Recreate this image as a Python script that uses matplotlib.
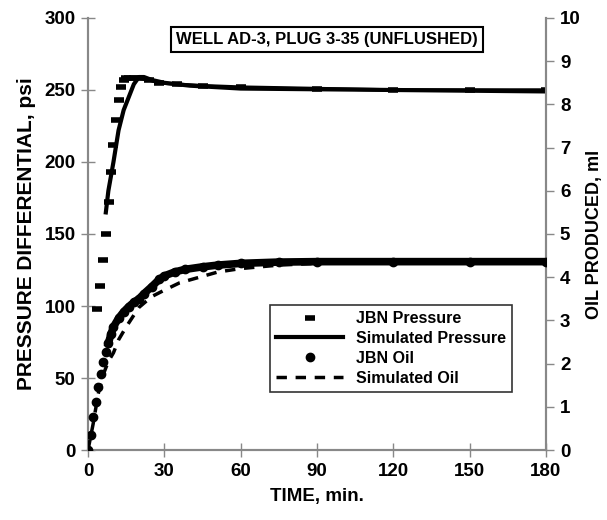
import matplotlib
matplotlib.use("Agg")
import matplotlib.pyplot as plt
from matplotlib.lines import Line2D

plt.rcParams['font.family'] = ['Liberation Sans', 'DejaVu Sans']
plt.rcParams['font.weight'] = 'bold'

# JBN measured pressure (min, psi)
jbn_p_t = [3.5, 4.7, 5.9, 7.1, 8.3, 9.2, 10, 11, 12, 13, 14, 15, 16, 18, 20, 24, 28, 35, 45, 60, 90, 120, 150, 180]
jbn_p = [98, 114, 132, 150, 172, 193, 212, 229, 243, 252, 257, 258, 258, 258, 258, 257, 255, 254, 253, 252, 251, 250, 250, 250]

# simulated pressure (min, psi)
sim_p_t = [7, 8, 10, 12, 14, 16, 18, 20, 22, 25, 30, 40, 50, 60, 90, 120, 150, 180]
sim_p = [165, 180, 200, 222, 236, 245, 254, 259, 259, 257, 255, 253, 252, 251, 250.5, 250, 249.5, 249]

# JBN oil produced (min, ml)
jbn_o_t = [0, 1, 2, 3, 4, 5, 6, 7, 8, 9, 10, 12, 14, 16, 18, 20, 22, 25, 28, 30, 34, 38, 45, 51, 60, 75, 90, 120, 150, 180]
jbn_o = [0, 0.35, 0.76, 1.11, 1.45, 1.76, 2.04, 2.27, 2.47, 2.68, 2.85, 3.05, 3.2, 3.32, 3.42, 3.5, 3.62, 3.78, 3.95, 4.03, 4.12, 4.18, 4.24, 4.28, 4.32, 4.35, 4.36, 4.36, 4.36, 4.36]

# simulated oil (min, ml)
sim_o_t = [0, 2, 4, 6, 8, 10, 12, 15, 20, 25, 30, 36, 45, 51, 60, 75, 90, 120, 150, 180]
sim_o = [0, 0.6, 1.3, 1.75, 2.05, 2.25, 2.55, 2.85, 3.3, 3.55, 3.7, 3.87, 4.02, 4.12, 4.2, 4.28, 4.32, 4.35, 4.35, 4.35]

fig = plt.figure(figsize=(6.07, 5.20), dpi=100)
ax = fig.add_axes([0.145, 0.1346, 0.7545, 0.8308])
ax2 = ax.twinx()

grey = '#888888'

# pressure: dashes, joined only once the curve has levelled off
ax.plot(jbn_p_t[11:], jbn_p[11:], color='black', lw=2.5, zorder=2)
ax.plot(jbn_p_t, jbn_p, ls='none', marker='_', ms=7, mew=4, color='black', zorder=3)
ax.plot(sim_p_t, sim_p, color='black', lw=3, zorder=3)

# oil: dots separate early, merging into a thick band later
ax2.plot(jbn_o_t[8:], jbn_o[8:], color='black', lw=5.5, zorder=2)
ax2.plot(jbn_o_t, jbn_o, ls='none', marker='o', ms=6, color='black', zorder=3)
ax2.plot(sim_o_t, sim_o, color='black', lw=2.5, ls=(0, (3, 2.5)), zorder=3)

ax.set_xlim(0, 180)
ax.set_ylim(0, 300)
ax2.set_ylim(0, 10)
ax.set_xticks(range(0, 181, 30))
ax.set_yticks(range(0, 301, 50))
ax2.set_yticks(range(0, 11))

for a in (ax, ax2):
    for s in a.spines.values():
        s.set_color(grey)
        s.set_linewidth(1.5)
    a.spines['top'].set_visible(False)
ax.tick_params(axis='both', direction='inout', length=10, width=1, color=grey, labelsize=13.5, pad=4)
ax2.tick_params(axis='y', direction='out', length=6, width=1, color=grey, labelsize=13.5, pad=4)

ax.set_xlabel('TIME, min.', fontsize=13.5, fontweight='bold', labelpad=6)
ax.set_ylabel('PRESSURE DIFFERENTIAL, psi', fontsize=15, fontweight='bold', labelpad=6)
ax2.set_ylabel('OIL PRODUCED, ml', fontsize=13, fontweight='bold', labelpad=4)

ax.text(0.522, 0.950, 'WELL AD-3, PLUG 3-35 (UNFLUSHED)', transform=ax.transAxes,
        ha='center', va='center', fontsize=12, fontweight='bold',
        bbox=dict(boxstyle='square,pad=0.3', fc='white', ec='black', lw=1.5))

handles = [
    Line2D([], [], ls='none', marker='_', ms=7, mew=4, color='black'),
    Line2D([], [], color='black', lw=3),
    Line2D([], [], ls='none', marker='o', ms=6, color='black'),
    Line2D([], [], color='black', lw=2.5, ls=(0, (3, 2.5))),
]
labels = ['JBN Pressure', 'Simulated Pressure', 'JBN Oil', 'Simulated Oil']
leg = ax2.legend(handles, labels, loc='upper left', bbox_to_anchor=(0.397, 0.336),
                 borderaxespad=0, fancybox=False, frameon=True, handlelength=4.2,
                 prop={'size': 11.5, 'weight': 'bold'}, labelspacing=0.3)
leg.get_frame().set_edgecolor('black')
leg.get_frame().set_linewidth(1.2)

fig.savefig('out.png', dpi=100)
